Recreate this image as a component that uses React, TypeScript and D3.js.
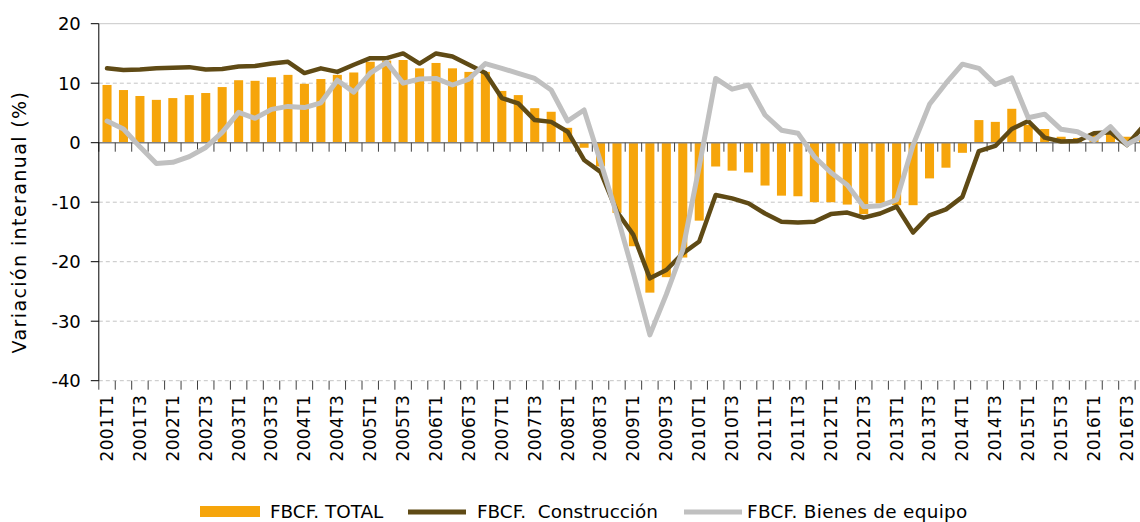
import React from "react";
import * as d3 from "d3";

const years = [2001, 2002, 2003, 2004, 2005, 2006, 2007, 2008, 2009, 2010, 2011, 2012, 2013, 2014, 2015, 2016];
const quarters = ["T1", "T2", "T3", "T4"];
const categories: string[] = years.flatMap((y) => quarters.map((q) => `${y}${q}`));

// FBCF. TOTAL (bars)
const totalValues = [
  9.7, 8.85, 7.85, 7.2, 7.5, 8.0, 8.35, 9.35, 10.5, 10.4, 11.0, 11.4, 9.9, 10.7, 11.4, 11.8,
  13.6, 13.8, 13.9, 12.5, 13.4, 12.5, 11.9, 11.9, 8.7, 8.0, 5.8, 5.2, 2.5, -0.85, -4.0, -11.8,
  -17.4, -25.2, -22.6, -19.3, -13.1, -4.0, -4.7, -5.0, -7.2, -8.9, -9.0, -10.0, -10.0, -10.4, -12.0, -10.2,
  -10.5, -10.5, -6.0, -4.2, -1.7, 3.8, 3.5, 5.7, 3.0, 2.3, 1.0, 0.8, 1.3, 1.8, 1.0, 1.0,
];
// FBCF. Construcción (dark line)
const constructionValues = [
  12.5, 12.2, 12.3, 12.5, 12.6, 12.7, 12.3, 12.4, 12.8, 12.9, 13.3, 13.6, 11.7, 12.5, 11.9, 13.1,
  14.2, 14.2, 15.0, 13.3, 15.0, 14.5, 13.1, 11.7, 7.5, 6.6, 3.8, 3.5, 1.85, -2.9, -4.9, -11.6,
  -15.5, -22.8, -21.4, -18.6, -16.6, -8.8, -9.35, -10.2, -11.9, -13.3, -13.4, -13.3, -12.0, -11.75, -12.6, -11.9,
  -10.75, -15.1, -12.2, -11.2, -9.1, -1.4, -0.55, 2.3, 3.65, 0.85, 0.2, 0.3, 1.6, 1.75, -0.4, 2.8,
];
// FBCF. Bienes de equipo (gray line)
const equipmentValues = [
  3.65, 2.3, -0.7, -3.5, -3.3, -2.35, -0.8, 1.75, 5.1, 4.1, 5.6, 6.1, 5.9, 6.7, 10.5, 8.5,
  11.7, 13.5, 10.0, 10.7, 10.8, 9.7, 10.7, 13.3, 12.5, 11.65, 10.8, 8.85, 3.65, 5.5, -3.2, -12.15,
  -22.0, -32.3, -25.5, -18.0, -4.0, 10.8, 9.0, 9.7, 4.65, 2.1, 1.6, -2.35, -5.0, -7.1, -10.75, -10.6,
  -9.6, -0.4, 6.45, 10.0, 13.2, 12.5, 9.8, 10.9, 4.2, 4.8, 2.25, 1.85, 0.4, 2.7, -0.3, 1.2,
];
const yTicks = [20, 10, 0, -10, -20, -30, -40];
const seriesNames = ["FBCF. TOTAL", "FBCF.\u00a0 Construcción", "FBCF. Bienes de equipo"];
const yTitle = "Variación interanual (%)";

const W = 1140;
const H = 522;
const FONT = "'DejaVu Sans', Verdana, sans-serif";
const ORANGE = "#F6A50B";
const BROWN = "#5F4A15";
const GRAY = "#C0C0C0";

export default function App() {
  const left = 98.8;
  const step = 16.45;
  const x = d3
    .scaleBand<string>()
    .domain(categories)
    .range([left, left + step * categories.length])
    .paddingInner(0.45)
    .paddingOuter(0.225);
  const y = d3.scaleLinear().domain([-40, 20]).range([380.7, 23.7]);
  const cx = (c: string) => (x(c) as number) + x.bandwidth() / 2;
  const y0 = y(0);
  const yBottom = y(-40);
  const right = left + step * categories.length;

  const lineGen = d3
    .line<number>()
    .x((_, i) => cx(categories[i]))
    .y((d) => y(d));

  const boundaries = d3.range(categories.length + 1).map((i) => left + step * i);

  return (
    <svg width={W} height={H} style={{ position: "absolute", left: 0, top: 0, background: "#fff" }} fontFamily={FONT}>
      {/* gridlines */}
      {yTicks.map((t) =>
        t === 0 ? null : (
          <line
            key={"g" + t}
            x1={left}
            x2={right}
            y1={y(t)}
            y2={y(t)}
            stroke={t === 20 ? "#C8C8C8" : "#C4C4C4"}
            strokeWidth={1}
            strokeDasharray={t === 20 ? undefined : "4 3"}
          />
        )
      )}
      {/* bars */}
      {totalValues.map((v, i) => (
        <rect
          key={"b" + i}
          x={x(categories[i])}
          y={Math.min(y(v), y0)}
          width={x.bandwidth()}
          height={Math.abs(y(v) - y0)}
          fill={ORANGE}
        />
      ))}
      {/* zero axis with ticks */}
      <line x1={left} x2={right} y1={y0} y2={y0} stroke="#808080" strokeWidth={1.5} />
      {boundaries.map((bx, i) => (
        <line key={"zt" + i} x1={bx} x2={bx} y1={y0} y2={y0 + 9} stroke="#404040" strokeWidth={1} />
      ))}
      {/* bottom ticks */}
      {boundaries.map((bx, i) => (
        <line key={"bt" + i} x1={bx} x2={bx} y1={yBottom} y2={yBottom + 9} stroke="#404040" strokeWidth={1} />
      ))}
      {/* y axis */}
      <line x1={left} x2={left} y1={y(20)} y2={yBottom} stroke="#000" strokeWidth={1} />
      {yTicks.map((t) => (
        <g key={"yt" + t}>
          <line x1={left - 8} x2={left} y1={y(t)} y2={y(t)} stroke="#000" strokeWidth={1} />
          <text x={left - 18} y={y(t)} dy="0.35em" textAnchor="end" fontSize={18} fill="#000">
            {t}
          </text>
        </g>
      ))}
      {/* lines */}
      <path
        d={lineGen(constructionValues) || ""}
        fill="none"
        stroke={BROWN}
        strokeWidth={4.5}
        strokeLinejoin="round"
        strokeLinecap="round"
      />
      <path
        d={lineGen(equipmentValues) || ""}
        fill="none"
        stroke={GRAY}
        strokeWidth={5}
        strokeLinejoin="round"
        strokeLinecap="round"
      />
      {/* x labels */}
      {categories.map((c, i) =>
        i % 2 === 0 ? (
          <text
            key={"xl" + i}
            transform={`translate(${cx(c)},${yBottom + 14}) rotate(-90)`}
            textAnchor="end"
            dy="0.35em"
            fontSize={17}
            letterSpacing={0.4}
            fill="#000"
          >
            {c}
          </text>
        ) : null
      )}
      {/* y title */}
      <text
        transform={`translate(19,222) rotate(-90)`}
        textAnchor="middle"
        dy="0.35em"
        fontSize={19}
        letterSpacing={1.4}
        fill="#000"
      >
        {yTitle}
      </text>
      {/* legend */}
      <g fontSize={18.4} fill="#000">
        <rect x={200} y={506} width={60} height={11} fill={ORANGE} />
        <text x={270} y={512} dy="0.35em">{seriesNames[0]}</text>
        <line x1={408} x2={466} y1={512} y2={512} stroke={BROWN} strokeWidth={5} />
        <text x={477} y={512} dy="0.35em">{seriesNames[1]}</text>
        <line x1={684} x2={742} y1={512} y2={512} stroke={GRAY} strokeWidth={5} />
        <text x={747} y={512} dy="0.35em" letterSpacing={0.3}>{seriesNames[2]}</text>
      </g>
    </svg>
  );
}
